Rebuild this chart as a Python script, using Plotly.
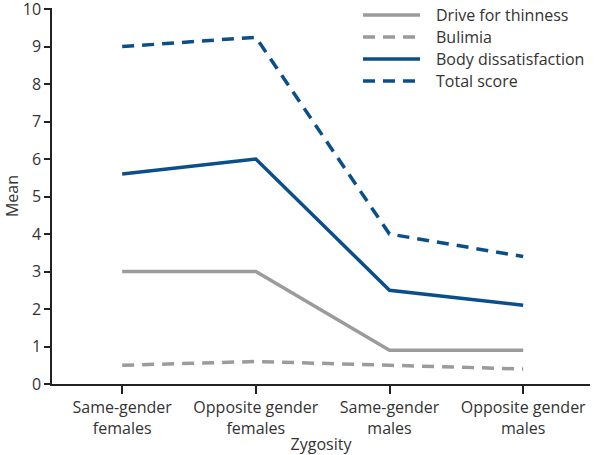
import plotly.graph_objects as go

categories = ["Same-gender<br>females", "Opposite gender<br>females", "Same-gender<br>males", "Opposite gender<br>males"]
drive_for_thinness = [3.0, 3.0, 0.9, 0.9]
bulimia = [0.5, 0.6, 0.5, 0.4]
body_dissatisfaction = [5.6, 6.0, 2.5, 2.1]
total_score = [9.0, 9.25, 4.0, 3.4]
y_ticks = list(range(0, 11))
y_tick_text = [str(v) for v in y_ticks]

GRAY = "#9b9b9b"
BLUE = "#0b4f8a"
FONT = "Open Sans"
TXT = "#333333"

x_idx = list(range(len(categories)))
series = [
    ("Drive for thinness", drive_for_thinness, GRAY, "solid"),
    ("Bulimia", bulimia, GRAY, "12px,8px"),
    ("Body dissatisfaction", body_dissatisfaction, BLUE, "solid"),
    ("Total score", total_score, BLUE, "12px,8px"),
]

# plot-area geometry in pixels (for placing the hand-drawn legend)
W, H = 600, 455
ML, MR, MT, MB = 52, 10, 8, 71
PW, PH = W - ML - MR, H - MT - MB


def px_x(px):
    return (px - ML) / PW


def px_y(py):
    return (H - MB - py) / PH


legend_rows_px = [15, 37, 59, 81]

fig = go.Figure()
for name, vals, color, dash in series:
    fig.add_trace(go.Scatter(x=x_idx, y=vals, mode="lines", name=name, showlegend=False,
                             line=dict(color=color, width=3.5, dash=dash)))

for (name, vals, color, dash), ry in zip(series, legend_rows_px):
    fig.add_shape(type="line", xref="paper", yref="paper",
                  x0=px_x(363), x1=px_x(420), y0=px_y(ry), y1=px_y(ry),
                  line=dict(color=color, width=3.5, dash=dash))
    fig.add_annotation(xref="paper", yref="paper", x=px_x(435), y=px_y(ry),
                       xanchor="left", yanchor="middle", showarrow=False, borderpad=0,
                       text=name, font=dict(family=FONT, size=16, color=TXT))

fig.update_layout(
    width=W, height=H,
    margin=dict(l=ML, r=MR, t=MT, b=MB),
    paper_bgcolor="white", plot_bgcolor="white",
    font=dict(family=FONT, size=16, color=TXT),
    showlegend=False,
    xaxis=dict(range=[-0.525, 3.5], tickmode="array", tickvals=x_idx, ticktext=categories,
               showline=True, linecolor="#222222", linewidth=1.5, ticks="outside",
               ticklen=8, tickcolor="#222222", tickwidth=1.5, showgrid=False, zeroline=False,
               automargin=False,
               title=dict(text="Zygosity", standoff=0, font=dict(size=16)),
               tickfont=dict(size=16)),
    yaxis=dict(range=[0, 10.03], tickmode="array", tickvals=y_ticks, ticktext=y_tick_text,
               showline=True, linecolor="#222222", linewidth=1.5, ticks="outside",
               ticklen=6, tickcolor="#222222", tickwidth=1.5, showgrid=False, zeroline=False,
               automargin=False, ticklabeloverflow="allow",
               title=dict(text="Mean", standoff=0, font=dict(size=16)),
               tickfont=dict(size=16)),
)

fig.write_html("out.html", config={"displayModeBar": False},
               post_script="document.body.style.margin='0px';")
